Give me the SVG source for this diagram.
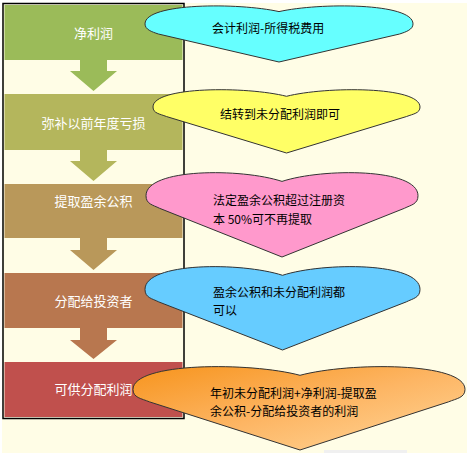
<svg xmlns="http://www.w3.org/2000/svg" width="467" height="453" viewBox="0 0 467 453">
<defs>
<style>
.band-t{font-family:"Noto Sans CJK SC","Noto Sans",sans-serif;font-size:13px;fill:#fff;text-anchor:middle;dominant-baseline:central}
.heart-t{font-family:"Noto Sans CJK SC","Noto Sans",sans-serif;font-size:12px;fill:#000;dominant-baseline:central}
.heart{stroke:#333;stroke-width:1}
</style>
<linearGradient id="og" x1="0" y1="0" x2="1" y2="1">
<stop offset="0" stop-color="#F7941D"/>
<stop offset="0.5" stop-color="#FDB563"/>
<stop offset="1" stop-color="#FFD79A"/>
</linearGradient>
</defs>
<rect x="0" y="0" width="467" height="453" fill="#fff"/>
<rect x="2" y="3" width="465" height="450" fill="#FFFDE6"/>
<rect x="324" y="450" width="83" height="3" fill="#F0F0F0"/>
<g id="frame"><rect x="3" y="3.5" width="181" height="415" fill="none" stroke="#000" stroke-width="1.5"/></g>
<g id="connectors">
<polygon points="80,60 107,60 107,71 117,71 93.5,91 70,71 80,71" fill="#9BBB59"/>
<polygon points="80,150 107,150 107,161 117,161 93.5,181 70,161 80,161" fill="#B4B65C"/>
<polygon points="80,238 107,238 107,250 117,250 93.5,270 70,250 80,250" fill="#B9985A"/>
<polygon points="80,328 107,328 107,340 117,340 93.5,359 70,340 80,340" fill="#B8774F"/>
</g>
<g id="n1"><rect x="4.5" y="5" width="178" height="55" fill="#9BBB59"/><text class="band-t" x="93.5" y="32">净利润</text></g>
<g id="n2"><rect x="4.5" y="94" width="178" height="56" fill="#B4B65C"/><text class="band-t" x="93.5" y="122">弥补以前年度亏损</text></g>
<g id="n3"><rect x="4.5" y="184" width="178" height="54" fill="#B9985A"/><text class="band-t" x="93.5" y="200">提取盈余公积</text></g>
<g id="n4"><rect x="4.5" y="273" width="178" height="55" fill="#B8774F"/><text class="band-t" x="93.5" y="300">分配给投资者</text></g>
<g id="n5"><rect x="4.5" y="362" width="178" height="55" fill="#C0504D"/><text class="band-t" x="93.5" y="388">可供分配利润</text></g>
<g id="h1"><path class="heart" fill="#66FFFF" d="M279,11.6 C238.8,2.6 145,2.6 145,23.9 C145,29.5 151.7,31.8 158.4,34 L279,62 L399.6,34 C406.3,31.8 413,29.5 413,23.9 C413,2.6 319.2,2.6 279,11.6 Z"/><text class="heart-t" x="212" y="27">会计利润-所得税费用</text></g>
<g id="h2"><path class="heart" fill="#FFFF66" d="M286.5,96.3 C246.5,86.2 153,86.2 153,107 C153,113.3 159.7,113.9 166.4,116.5 L286.5,153 L406.6,116.5 C413.3,113.9 420,113.3 420,107 C420,86.2 326.5,86.2 286.5,96.3 Z"/><text class="heart-t" x="220" y="113">结转到未分配利润即可</text></g>
<g id="h3"><path class="heart" fill="#FF99CC" d="M282,181.4 C241.2,168 146,168 146,195.7 C146,204.1 152.8,204.9 159.6,208.3 L282,257 L404.4,208.3 C411.2,204.9 418,204.1 418,195.7 C418,168 322.8,168 282,181.4 Z"/><text class="heart-t" x="213" y="199">法定盈余公积超过注册资</text><text class="heart-t" x="213" y="218">本 50%可不再提取</text></g>
<g id="h4"><path class="heart" fill="#66CCFF" d="M282.5,275.3 C241.25,262 145,262 145,289.4 C145,297.7 151.9,298.5 158.75,301.9 L282.5,350 L406.25,301.9 C413.1,298.5 420,297.7 420,289.4 C420,262 323.75,262 282.5,275.3 Z"/><text class="heart-t" x="213" y="291">盈余公积和未分配利润都</text><text class="heart-t" x="213" y="309">可以</text></g>
<g id="h5"><path class="heart" fill="url(#og)" d="M300,375.3 C250.2,362 133,362 133,389.4 C133,397.7 141.3,398.5 149.6,401.9 L300,450 L448.4,401.9 C456.7,398.5 465,397.7 465,389.4 C465,362 349.8,362 300,375.3 Z"/><text class="heart-t" x="210" y="392">年初未分配利润+净利润-提取盈</text><text class="heart-t" x="210" y="410">余公积-分配给投资者的利润</text></g>
</svg>
